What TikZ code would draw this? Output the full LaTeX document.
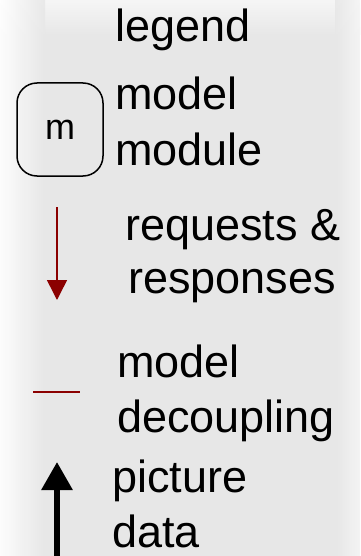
\documentclass[tikz,border=0pt]{standalone}
\usepackage{fontspec}
\setmainfont{Liberation Sans}
\usetikzlibrary{arrows.meta}
\definecolor{bggray}{HTML}{E7E7E7}
\definecolor{reqred}{HTML}{8B0000}
\def\tikzscale{1}

\begin{document}
\begin{tikzpicture}[x=\tikzscale pt,y=-\tikzscale pt,
    lbl/.style={anchor=base west,inner sep=0pt,font=\fontsize{45}{55}\selectfont}]

  %% background
  \useasboundingbox (0,0) rectangle (360,556);
  \fill[bggray] (0,0) rectangle (360,556);
  \shade[top color=white!60!bggray,bottom color=bggray] (0,0) rectangle (360,35);
  \shade[left color=white,right color=white!0!bggray,opacity=0.9] (0,0) rectangle (45,556);
  \shade[left color=bggray,right color=white!60!bggray,opacity=0.9] (335,0) rectangle (360,556);

  \node[lbl] (title) at (115,42) {legend};

  %% model module
  \node[draw=black,line width=1.5pt,rounded corners=20pt,minimum width=86pt,minimum height=93pt,
    font=\fontsize{36}{40}\selectfont] (mod) at (60,129.5) {m};
  \node[lbl] (modA) at (115,110) {model};
  \node[lbl] (modB) at (115,165) {module};

  %% requests
  \coordinate (reqS) at (57,207);
  \coordinate (reqE) at (57,300);
  \draw[reqred,line width=1.5pt,-{Triangle[length=20pt,width=20pt]}] (reqS) -- (reqE);
  \node[lbl] (reqA) at (125,240) {requests \&};
  \node[lbl] (reqB) at (128,293) {responses};

  %% decoupling
  \coordinate (decS) at (33,392);
  \coordinate (decE) at (80,392);
  \draw[reqred,line width=1.5pt] (decS) -- (decE);
  \node[lbl] (decA) at (117,377) {model};
  \node[lbl] (decB) at (117,432) {decoupling};

  %% picture data
  \coordinate (picS) at (57,556);
  \coordinate (picE) at (57,462);
  \draw[black,line width=6pt,-{Triangle[length=28pt,width=30pt]}] (picS) -- (picE);
  \node[lbl] (picA) at (112,492) {picture};
  \node[lbl] (picB) at (112,547) {data};

\end{tikzpicture}
\end{document}
